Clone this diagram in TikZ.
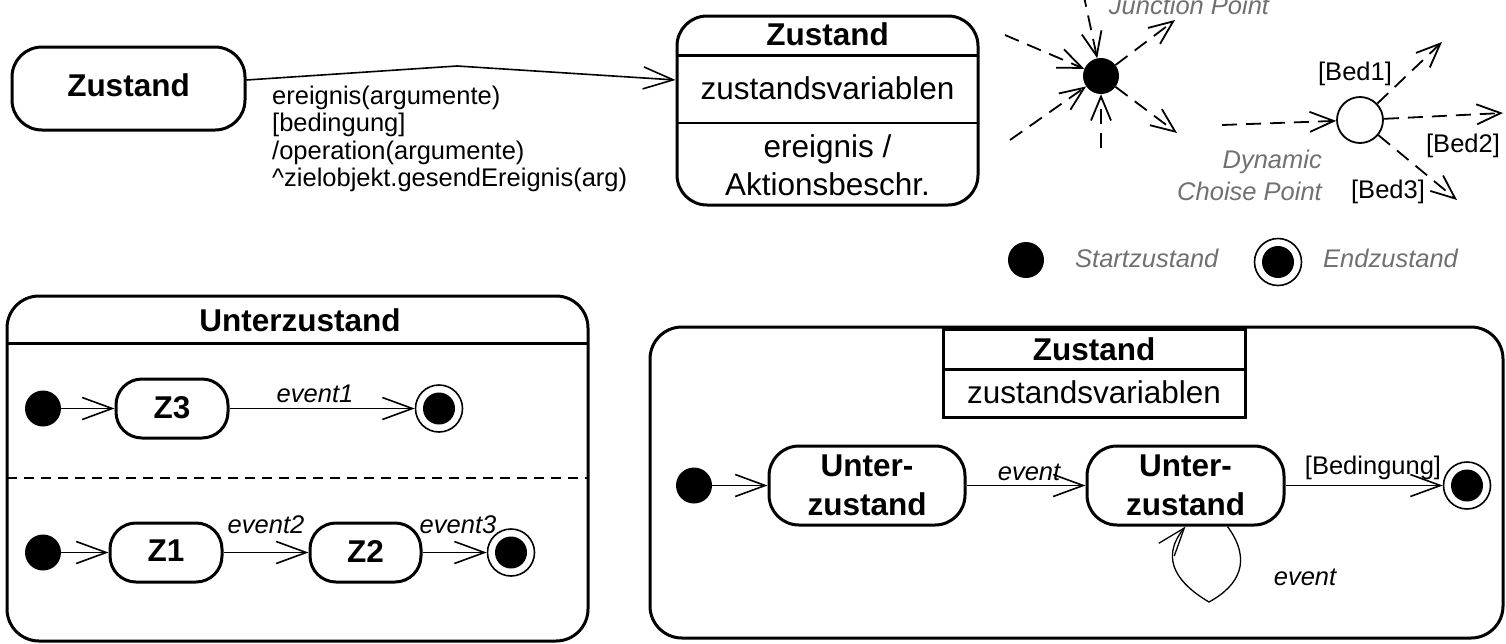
\documentclass[tikz,border=0pt]{standalone}
\usepackage{fontspec}
\setmainfont{Liberation Sans}
\usetikzlibrary{arrows.meta}
\definecolor{lblgray}{RGB}{112,112,112}
\begin{document}
\begin{tikzpicture}[x=1pt,y=-1pt,
  stt/.style={font=\fontsize{31.5}{39}\selectfont, inner sep=0pt},
  stb/.style={font=\fontsize{31.5}{39}\selectfont\bfseries},
  lbl/.style={font=\fontsize{25.5}{27.5}\selectfont, inner sep=0pt},
  lbli/.style={font=\fontsize{25.5}{27.5}\selectfont\itshape, inner sep=0pt},
  glbl/.style={lbli, text=lblgray},
  stbox/.style={draw, line width=3pt, rounded corners=#1, inner sep=0pt, align=center},
  startdot/.style={circle, fill=black, minimum size=36pt, inner sep=0pt},
  endring/.style={circle, draw, line width=1.6pt, minimum size=47pt, inner sep=0pt},
  endcore/.style={circle, fill=black, minimum size=32pt, inner sep=0pt},
  tr/.style={line width=1.6pt, -{Straight Barb[length=30pt,width=22pt]}},
  dtr/.style={line width=1.8pt, dash pattern=on 15pt off 9pt, -{Straight Barb[length=24pt,width=20pt]}},
  thickline/.style={line width=3pt},
  thinline/.style={line width=1.5pt}
]
\useasboundingbox (0,0) rectangle (1506,643);
\clip (0,0) rectangle (1506,643);

% ---------- top left: simple state and transition ----------
\node[stbox=30pt, minimum width=233pt, minimum height=83pt, stb, text depth=6pt] (A) at (128.5,88.5) {Zustand};
\node[stbox=30pt, minimum width=301pt, minimum height=189pt] (B) at (827.5,110.5) {};
\coordinate (Am) at (457,66);
\draw[tr] ([yshift=8.5pt]A.east) -- (Am) -- ([yshift=30.5pt]B.west);
\node[lbl, anchor=base west] (L1) at (272,104) {ereignis(argumente)};
\node[lbl, anchor=base west] (L2) at (272,131.5) {[bedingung]};
\node[lbl, anchor=base west] (L3) at (272,159) {/operation(argumente)};
\node[lbl, anchor=base west] (L4) at (272,186.5) {\textasciicircum zielobjekt.gesendEreignis(arg)};

\draw[thickline] (677,55) -- (978,55);
\draw[thinline] (677,123) -- (978,123);
\node[stb, anchor=base, inner sep=0pt] (Bh) at (827.5,45) {Zustand};
\node[stt, anchor=base] (Bv) at (827.5,99) {zustandsvariablen};
\node[stt, anchor=base] (Be1) at (827.5,157) {ereignis /};
\node[stt, anchor=base] (Be2) at (827.5,195) {Aktionsbeschr.};

% ---------- junction point ----------
\node[circle, fill=black, minimum size=36pt, inner sep=0pt] (J) at (1101,76) {};
\coordinate (jt) at (1083,-8);
\coordinate (jl) at (1005,35);
\coordinate (jll) at (1010,140);
\coordinate (jb) at (1101,148);
\coordinate (jur) at (1175,20);
\coordinate (jlr) at (1177,133);
\draw[dtr] (jt) -- (J);
\draw[dtr] (jl) -- (J);
\draw[dtr] (jll) -- (J);
\draw[dtr] (jb) -- (J);
\draw[dtr] (J) -- (jur);
\draw[dtr] (J) -- (jlr);
\node[glbl, anchor=base] (Jlbl) at (1189,14) {Junction Point};

% ---------- dynamic choice point ----------
\node[circle, draw, line width=1.8pt, minimum size=46pt, inner sep=0pt, fill=white] (C) at (1360,120) {};
\coordinate (cin) at (1222,125);
\coordinate (c1) at (1442,42);
\coordinate (c2) at (1503,113);
\coordinate (c3) at (1457,200);
\draw[dtr] (cin) -- (C);
\draw[dtr] (C) -- (c1);
\draw[dtr] (C) -- (c2);
\draw[dtr] (C) -- (c3);
\node[lbl, anchor=base] (Bed1) at (1355,80) {[Bed1]};
\node[lbl, anchor=base] (Bed2) at (1463,152) {[Bed2]};
\node[lbl, anchor=base] (Bed3) at (1388,198) {[Bed3]};
\node[glbl, anchor=base east] (Dyn1) at (1322,168) {Dynamic};
\node[glbl, anchor=base east] (Dyn2) at (1322,200) {Choise Point};

% ---------- legend ----------
\node[startdot] (LS) at (1026,260) {};
\node[glbl, anchor=base west] (LSt) at (1075,267) {Startzustand};
\node[endring] (LE) at (1278,262) {};
\node[endcore] (LEi) at (1278,262) {};
\node[glbl, anchor=base west] (LEt) at (1323,267) {Endzustand};

% ---------- bottom left: concurrent substates ----------
\node[stbox=32pt, minimum width=581pt, minimum height=345pt] (UZ) at (297.5,468.5) {};
\draw[thickline] (7,343) -- (588,343);
\draw[thinline, dash pattern=on 10pt off 7pt] (7,478) -- (588,478);
\node[stb, anchor=base, inner sep=0pt] (UZt) at (300,331) {Unterzustand};

\node[startdot] (S1) at (43,408.5) {};
\node[stbox=26pt, minimum width=112pt, minimum height=59pt, stb, text depth=3pt] (Z3) at (172,408.5) {Z3};
\node[endring] (E1) at (439,408.5) {};
\node[endcore] (E1i) at (439,408.5) {};
\draw[tr] (S1) -- (Z3);
\draw[tr] (Z3) -- (E1);
\node[lbli, anchor=base] (ev1) at (315,402) {event1};

\node[startdot] (S2) at (43,552.5) {};
\node[stbox=26pt, minimum width=112pt, minimum height=59pt, stb, text depth=3pt] (Z1) at (166,552.5) {Z1};
\node[stbox=26pt, minimum width=111pt, minimum height=59pt, stb, text depth=3pt] (Z2) at (365.5,552.5) {Z2};
\node[endring] (E2) at (511,552.5) {};
\node[endcore] (E2i) at (511,552.5) {};
\draw[tr] (S2) -- (Z1);
\draw[tr] (Z1) -- (Z2);
\draw[tr] (Z2) -- (E2);
\node[lbli, anchor=base] (ev2) at (266,533) {event2};
\node[lbli, anchor=base] (ev3) at (458,533) {event3};

% ---------- bottom right: composite state ----------
\node[stbox=32pt, minimum width=853pt, minimum height=311pt] (ZC) at (1076.5,482.5) {};
\node[draw, line width=3pt, minimum width=302pt, minimum height=88pt, inner sep=0pt] (ZR) at (1094,373) {};
\draw[thickline] (943,369) -- (1245,369);
\node[stb, anchor=base, inner sep=0pt] (ZRh) at (1094,360) {Zustand};
\node[stt, anchor=base] (ZRv) at (1094,403) {zustandsvariablen};

\node[startdot] (S3) at (694,485.5) {};
\node[stbox=30pt, minimum width=196pt, minimum height=79pt, stb] (U1) at (867,485.5) {Unter-\\zustand};
\node[stbox=30pt, minimum width=197pt, minimum height=79pt, stb] (U2) at (1185.5,485.5) {Unter-\\zustand};
\node[endring] (E3) at (1467,485.5) {};
\node[endcore] (E3i) at (1467,485.5) {};
\draw[tr] (S3) -- (U1);
\draw[tr] (U1) -- (U2);
\draw[tr] (U2) -- (E3);
\node[lbli, anchor=base] (ev4) at (1029,480) {event};
\node[lbl, anchor=base] (bed) at (1373,474) {[Bedingung]};
\draw[line width=1.3pt, -{Straight Barb[length=28pt,width=20pt]}]
  ([xshift=42pt]U2.south) .. controls (1252,560) and (1240,585) .. (1209,602)
  .. controls (1180,585) and (1158,560) .. (U2.south);
\node[lbli, anchor=base] (ev5) at (1305,585) {event};
\end{tikzpicture}
\end{document}
